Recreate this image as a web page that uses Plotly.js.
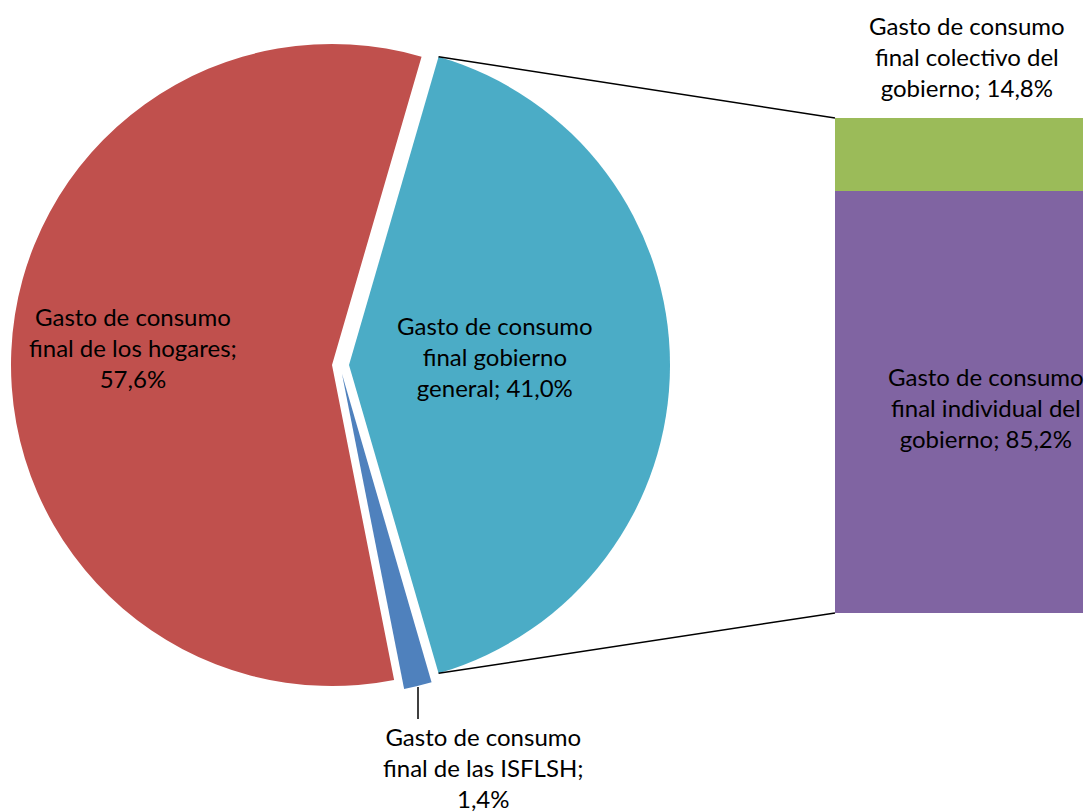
<!DOCTYPE html>
<html>
<head>
<meta charset="utf-8">
<script src="https://cdn.plot.ly/plotly-3.0.1.min.js"></script>
<style>
  html, body { margin: 0; padding: 0; overflow: hidden; background: #fff; width: 1086px; height: 812px; }
  #chart { position: absolute; left: -20px; top: 0; width: 1106px; height: 812px; }
</style>
</head>
<body>
<div id="chart"></div>
<script>
// ---- data ----
var pieLabels = ['Gasto de consumo final gobierno general', 'Gasto de consumo final de las ISFLSH', 'Gasto de consumo final de los hogares'];
var pieValues = [41.0, 1.4, 57.6];
var pieColors = ['#4BACC6', '#4F81BD', '#C0504D'];
var pieText = ['Gasto de consumo<br>final gobierno<br>general; 41,0%',
               'Gasto de consumo<br>final de las ISFLSH;<br>1,4%',
               'Gasto de consumo<br>final de los hogares;<br>57,6%'];

var barLabels = ['Gasto de consumo final individual del gobierno', 'Gasto de consumo final colectivo del gobierno'];
var barValues = [85.2, 14.8];
var barColors = ['#8064A2', '#9BBB59'];
var barText = ['Gasto de consumo<br>final individual del<br>gobierno; 85,2%',
               'Gasto de consumo<br>final colectivo del<br>gobierno; 14,8%'];

// ---- layout helpers (page pixels -> paper) ----
var OFF = 20, W = 1106, H = 812;
function px(x) { return (x + OFF) / W; }
function py(y) { return 1 - y / H; }

var total = pieValues.reduce(function (a, b) { return a + b; }, 0);
var rotation = 90 - 180 * pieValues[0] / total;   // split slice faces the bar
var R = 321, CX = 332, CY = 365;                 // pie radius / centre (page px)
var PULL = 0.053;
var halfMain = R * (1 + PULL);
var blueCX = 342, blueCY = 374;                  // exploded ISFLSH slice centre

var FONT = {family: 'Lato, "Open Sans", sans-serif', size: 24, color: '#000'};

var transparent = 'rgba(0,0,0,0)';
var mainColors = [pieColors[0], transparent, pieColors[2]];
var blueColors = [transparent, pieColors[1], transparent];

var traces = [
  {
    type: 'pie', labels: pieLabels, values: pieValues, sort: false,
    direction: 'clockwise', rotation: rotation,
    pull: [PULL, 0, 0],
    marker: {colors: mainColors, line: {width: 0}},
    textinfo: 'none', hoverinfo: 'skip', showlegend: false,
    domain: {x: [px(CX - halfMain), px(CX + halfMain)], y: [py(CY + halfMain), py(CY - halfMain)]}
  },
  {
    type: 'pie', labels: pieLabels, values: pieValues, sort: false,
    direction: 'clockwise', rotation: rotation,
    marker: {colors: blueColors, line: {width: 0}},
    textinfo: 'none', hoverinfo: 'skip', showlegend: false,
    domain: {x: [px(blueCX - R), px(blueCX + R)], y: [py(blueCY + R), py(blueCY - R)]}
  }
];

for (var i = 0; i < barValues.length; i++) {
  traces.push({
    type: 'bar', x: [0], y: [barValues[i]], width: [1], name: barLabels[i],
    marker: {color: barColors[i], line: {width: 0}},
    hoverinfo: 'skip', showlegend: false, xaxis: 'x', yaxis: 'y'
  });
}

var barLeft = 835, barRight = 1083, barTop = 118, barBottom = 613;
var yDom = [py(barBottom), py(barTop)];
var barTotal = barValues.reduce(function (a, b) { return a + b; }, 0);
function barY(v) { return yDom[0] + (v / barTotal) * (yDom[1] - yDom[0]); }

// connector lines from split slice corners to bar corners
var a0 = rotation * Math.PI / 180;
var a1 = (rotation + 360 * pieValues[0] / total) * Math.PI / 180;
var aMid = (a0 + a1) / 2;
var tcx = CX + PULL * R * Math.sin(aMid), tcy = CY - PULL * R * Math.cos(aMid);
var p0 = [tcx + R * Math.sin(a0), tcy - R * Math.cos(a0)];
var p1 = [tcx + R * Math.sin(a1), tcy - R * Math.cos(a1)];

var shapes = [
  {type: 'line', xref: 'paper', yref: 'paper', x0: px(p0[0]), y0: py(p0[1]), x1: px(barLeft), y1: barY(barTotal),
   line: {color: '#000', width: 1.5}},
  {type: 'line', xref: 'paper', yref: 'paper', x0: px(p1[0]), y0: py(p1[1]), x1: px(barLeft), y1: barY(0),
   line: {color: '#000', width: 1.5}},
  {type: 'line', xref: 'paper', yref: 'paper', x0: px(418), y0: py(687), x1: px(418), y1: py(719),
   line: {color: '#000', width: 1.5}}
];

function ann(text, x, y) {
  return {text: text, xref: 'paper', yref: 'paper', x: px(x), y: py(y),
          xanchor: 'center', yanchor: 'middle', showarrow: false, font: FONT, align: 'center'};
}
var annotations = [
  ann(pieText[2], 133, 347),
  ann(pieText[0], 495, 356),
  ann(pieText[1], 483, 767),
  ann(barText[1], 967, 57),
  ann(barText[0], 986, 407)
];

var layout = {
  width: W, height: H,
  margin: {l: 0, r: 0, t: 0, b: 0, pad: 0},
  paper_bgcolor: '#fff', plot_bgcolor: 'rgba(0,0,0,0)',
  showlegend: false, barmode: 'stack', bargap: 0,
  xaxis: {domain: [px(barLeft), px(barRight)], range: [-0.5, 0.5], visible: false, fixedrange: true},
  yaxis: {domain: yDom, range: [0, barTotal], visible: false, fixedrange: true},
  shapes: shapes, annotations: annotations
};

Plotly.newPlot('chart', traces, layout, {displayModeBar: false, staticPlot: true});
</script>
</body>
</html>
